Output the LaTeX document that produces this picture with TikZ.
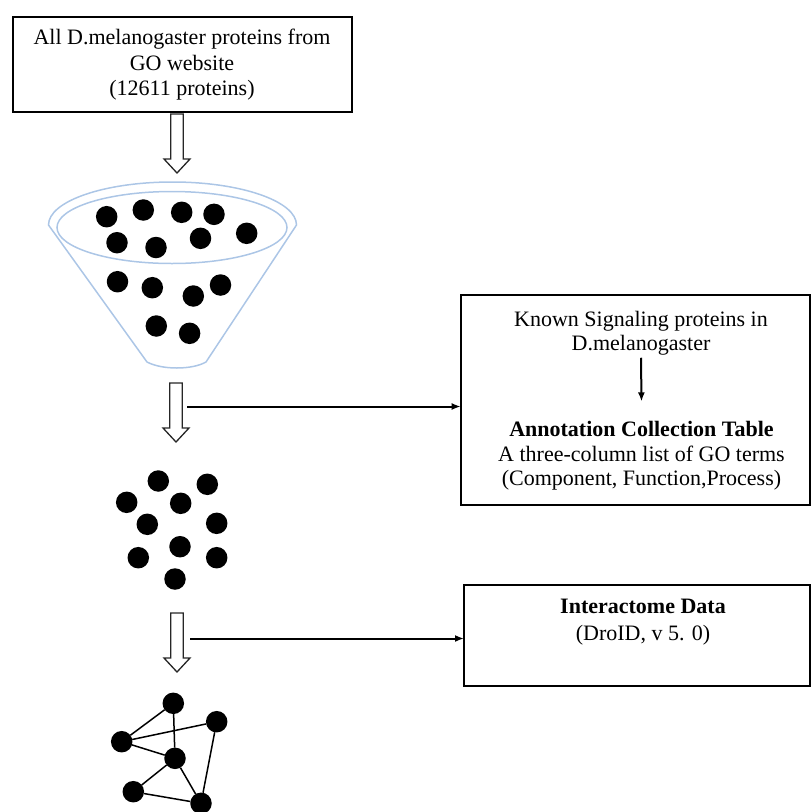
\documentclass[tikz,border=0pt]{standalone}
\usepackage{fontspec}
\setmainfont{Liberation Serif}
\usetikzlibrary{arrows.meta}
\definecolor{funnelblue}{RGB}{172,198,230}
\begin{document}
\begin{tikzpicture}[x=1pt,y=-1pt,
  every node/.style={inner sep=0pt,outer sep=0pt},
  txt/.style={anchor=base,font=\fontsize{22}{24}\selectfont},
  boldtxt/.style={anchor=base,font=\fontsize{22}{24}\selectfont\bfseries},
  box/.style={draw=black,line width=2pt,rectangle},
  dot/.style={circle,fill=black,minimum size=21.5pt},
  link/.style={line width=1.5pt},
  feed/.style={line width=2pt,-{Latex[length=9pt,width=7pt]}},
  hollowdown/.pic={
    \draw[line width=1.3pt,draw=black!85,fill=white]
      (-6.3,0) -- (-6.3,45) -- (-13,45) -- (0,59) -- (13,45) -- (6.3,45) -- (6.3,0) -- cycle;
  },
]
\useasboundingbox (0,0) rectangle (811,812);

% ---- source box ----
\node[box,minimum width=339pt,minimum height=95pt] (src) at (182.5,64.5) {};
\node[txt] (src1) at (182,44.5) {All D.melanogaster proteins  from};
\node[txt] (src2) at (182,70) {GO website};
\node[txt] (src3) at (182,95) {(12611 proteins)};

% ---- hollow down arrows ----
\pic at (177,114) {hollowdown};
\pic at (176,383) {hollowdown};
\pic at (177,613) {hollowdown};

% ---- funnel ----
\draw[draw=funnelblue,line width=1.5pt]
  (48.5,225) arc[start angle=180,end angle=360,x radius=124,y radius=43]
  -- (206,362) .. controls (192,370) and (162,370) .. (147,362) -- cycle;
\draw[draw=funnelblue,line width=1.5pt] (172,227.5) ellipse[x radius=115,y radius=36];

\foreach \p [count=\i] in {(106.7,216.7),(143.3,210),(181.7,212.3),(214,214.3),(246.7,233.3),
    (117,242.7),(156,247.5),(200.5,238.3),(117.5,281.7),(152.3,287.7),(193.3,296),
    (220.5,285),(156.3,326),(189.6,333.3)}
  \node[dot] (f\i) at \p {};

% ---- filtered proteins ----
\foreach \p [count=\i] in {(158.3,481),(207.3,484.3),(126.7,502.3),(180.7,503.3),(147.3,524.3),
    (216.7,523.3),(180,546.7),(138.3,557.7),(216.7,557.7),(175,579)}
  \node[dot] (s\i) at \p {};

% ---- interaction network ----
\node[dot] (n1) at (173.3,703.3) {};
\node[dot] (n2) at (216.7,721.7) {};
\node[dot] (n3) at (121.7,741.7) {};
\node[dot] (n4) at (175,758.3) {};
\node[dot] (n5) at (133.3,791.7) {};
\node[dot] (n6) at (201,803.3) {};
\draw[link] (n1) -- (n3) (n1) -- (n4) (n3) -- (n2) (n3) -- (n4)
  (n4) -- (n5) (n4) -- (n6) (n5) -- (n6) (n2) -- (n6);

% ---- signaling / annotation box ----
\node[box,minimum width=348.8pt,minimum height=210pt] (sig) at (635.1,400) {};
\node[txt] (known1) at (641,326.7) {Known Signaling proteins  in};
\node[txt] (known2) at (641,350) {D.melanogaster};
\node[boldtxt] (annot) at (641.5,436.7) {Annotation Collection Table};
\node[txt] (annot2) at (641.5,461.7) {A three-column list of GO terms};
\node[txt] (annot3) at (641.5,485.5) {(Component, Function,Process)};
\draw[feed] ([yshift=-3pt]known2.south) -- ([yshift=20pt]annot.north);

% ---- interactome box ----
\node[box,minimum width=345.5pt,minimum height=101pt] (inter) at (636.75,635.5) {};
\node[boldtxt] (inter1) at (643,613) {Interactome Data};
\node[txt] (inter2) at (643,640) {(DroID, v 5. 0)};

% ---- side connectors ----
\coordinate (h1) at (187,406.5);
\draw[feed] (h1) -- (h1 -| sig.west);
\coordinate (h2) at (190,638.5);
\draw[feed] (h2) -- (h2 -| inter.west);
\end{tikzpicture}
\end{document}
